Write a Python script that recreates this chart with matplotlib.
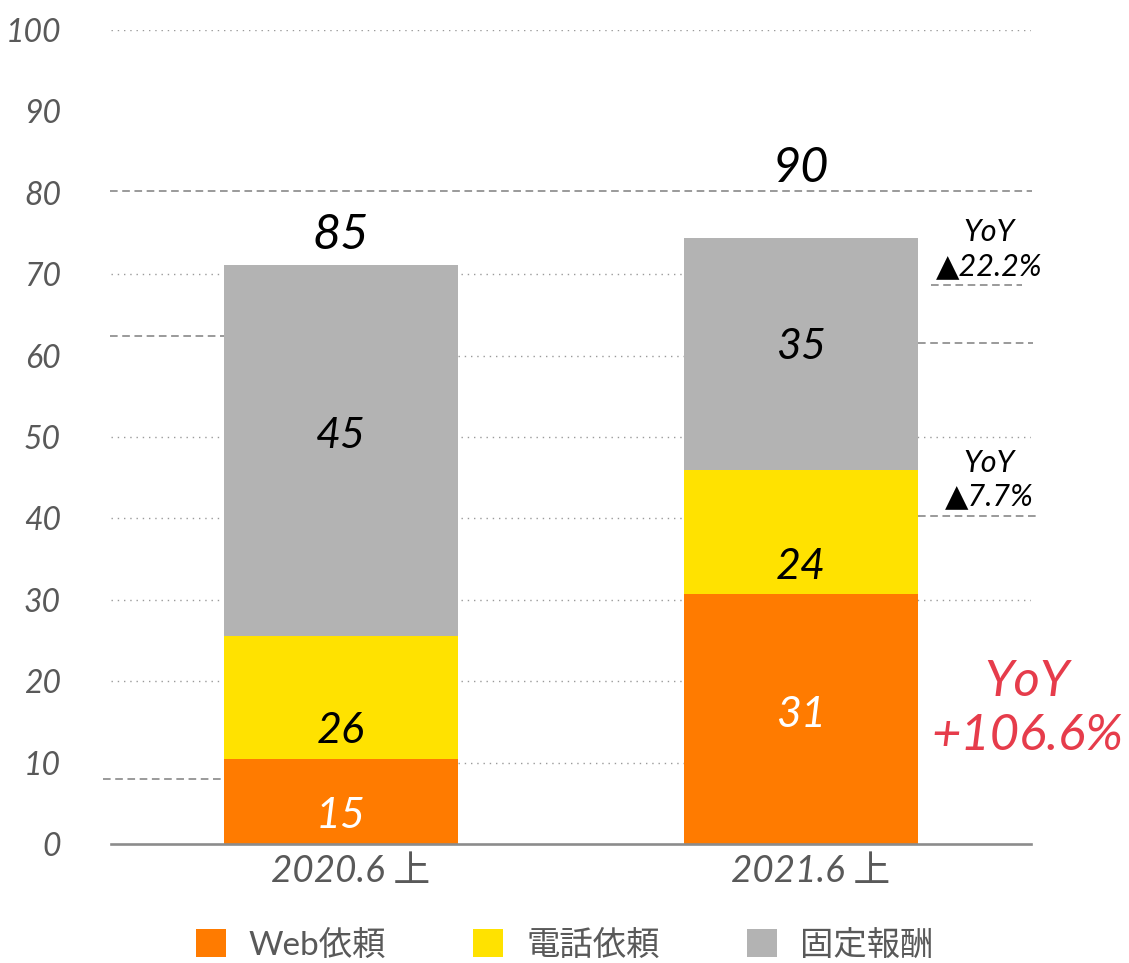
import matplotlib
matplotlib.use("Agg")
import matplotlib.pyplot as plt
from matplotlib.patches import Patch
import matplotlib.transforms as mtransforms

# ---- data ----
categories = ["2020.6 上", "2021.6 上"]
series_names = ["Web依頼", "電話依頼", "固定報酬"]
web_heights = [10.5, 30.7]      # drawn bar segment heights
phone_heights = [15.1, 15.3]
fixed_heights = [45.5, 28.5]
web_labels = ["15", "31"]       # printed segment values
phone_labels = ["26", "24"]
fixed_labels = ["45", "35"]
total_labels = ["85", "90"]
yoy_small = ["YoY\n▲22.2%", "YoY\n▲7.7%"]
yoy_big = "YoY\n+106.6%"
yticks = [0, 10, 20, 30, 40, 50, 60, 70, 80, 90, 100]

# ---- style ----
C_WEB = "#FF7B00"
C_PHONE = "#FFE200"
C_FIXED = "#B3B3B3"
C_TXT = "#595959"
C_RED = "#E63C4B"
FONT = ["Lato", "DejaVu Sans"]
FONT_CJK = ["Lato", "Noto Sans CJK JP", "DejaVu Sans"]

W, H = 1129, 963
fig = plt.figure(figsize=(W / 100, H / 100), dpi=100)
ax = fig.add_axes([111 / W, 1 - 844 / H, 920 / W, (844 - 30) / H])
ax.set_xlim(-0.5, 1.5)
ax.set_ylim(0, 100)

x = [0, 1]
bw = 0.51
M = (bw / 2, 1 - bw / 2)

# dotted gridlines (some segments hidden as in the reference)
grid_segments = {
    100: [(-0.5, 1.5)],
    70: [(-0.5, M[1])],
    60: [M],
    50: [(-0.5, 1.5)],
    40: [(-0.5, M[1])],
    30: [(-0.5, 1.5)],
    20: [(-0.5, M[1])],
    10: [M],
}
for yv, segs in grid_segments.items():
    for a, b in segs:
        ax.plot([a, b], [yv, yv], color="#9a9a9a", lw=1.0,
                linestyle=(0, (1, 3.5)), zorder=0)

# dashed reference lines
def px2x(px):
    return -0.5 + (px - 111) / 460.0

dashed = [
    (80.2, 110, 1032),
    (62.4, 110, 224),
    (8.0, 103, 224),
    (61.6, 918, 1033),
    (68.7, 931, 1022),
    (40.3, 918, 1036),
]
for yv, p0, p1 in dashed:
    ax.plot([px2x(p0), px2x(p1)], [yv, yv], color="#7f7f7f", lw=1.1,
            linestyle=(0, (5, 3)), zorder=1, clip_on=False)

# bars
ax.bar(x, web_heights, width=bw, color=C_WEB, zorder=2, label=series_names[0])
bottom2 = web_heights
ax.bar(x, phone_heights, width=bw, bottom=bottom2, color=C_PHONE, zorder=2,
       label=series_names[1])
bottom3 = [a + b for a, b in zip(web_heights, phone_heights)]
ax.bar(x, fixed_heights, width=bw, bottom=bottom3, color=C_FIXED, zorder=2,
       label=series_names[2])

# segment labels (positions)
web_y = [3.4, 15.9]
phone_y = [13.9, 34.0]
fixed_y = [50.1, 61.1]
total_y = [74.8, 83.1]
for i in range(2):
    ax.text(x[i], web_y[i], web_labels[i], color="white", fontsize=31,
            style="italic", family=FONT, ha="center", va="center", zorder=3)
    ax.text(x[i], phone_y[i], phone_labels[i], color="black", fontsize=31,
            style="italic", family=FONT, ha="center", va="center", zorder=3)
    ax.text(x[i], fixed_y[i], fixed_labels[i], color="black", fontsize=31,
            style="italic", family=FONT, ha="center", va="center", zorder=3)
    ax.text(x[i], total_y[i], total_labels[i], color="black", fontsize=35,
            style="italic", family=FONT, ha="center", va="center", zorder=3)

# YoY annotations
yoy_small_y = [73.1, 44.75]
for t, yv in zip(yoy_small, yoy_small_y):
    ax.text(px2x(989.5), yv, t, color="black", fontsize=22, style="italic",
            family=FONT, ha="center", va="center", linespacing=1.25,
            zorder=3, clip_on=False)
ax.text(px2x(1027), 16.6, yoy_big, color=C_RED, fontsize=36.5, style="italic",
        family=FONT, ha="center", va="center", linespacing=1.2,
        zorder=3, clip_on=False)

# axes styling
for s in ["top", "right", "left"]:
    ax.spines[s].set_visible(False)
ax.spines["bottom"].set_color("#8c8c8c")
ax.spines["bottom"].set_linewidth(1.9)
ax.spines["bottom"].set_zorder(4)
ax.set_yticks(yticks)
ax.set_yticklabels([str(v) for v in yticks])
ax.set_xticks(x)
ax.set_xticklabels(categories)
ax.tick_params(axis="both", length=0)
ax.tick_params(axis="y", pad=36)
ax.tick_params(axis="x", pad=8)
for lbl in ax.get_yticklabels():
    lbl.set_fontsize(23)
    lbl.set_style("italic")
    lbl.set_family(FONT)
    lbl.set_color(C_TXT)
offset = mtransforms.ScaledTranslation(10 / 100, 0, fig.dpi_scale_trans)
for lbl in ax.get_xticklabels():
    lbl.set_fontsize(26.5)
    lbl.set_style("italic")
    lbl.set_family(FONT_CJK)
    lbl.set_color(C_TXT)
    lbl.set_transform(lbl.get_transform() + offset)

# legend
handles = [Patch(facecolor=c, edgecolor="none") for c in (C_WEB, C_PHONE, C_FIXED)]
leg = fig.legend(handles, series_names, loc="center", ncol=3,
                 bbox_to_anchor=(0.5, 1 - 945 / H), frameon=False,
                 prop={"family": FONT_CJK, "size": 24},
                 handlelength=0.9, handleheight=0.9, handletextpad=0.7,
                 columnspacing=2.6)
for t in leg.get_texts():
    t.set_color(C_TXT)

fig.savefig("out.png", dpi=100)
